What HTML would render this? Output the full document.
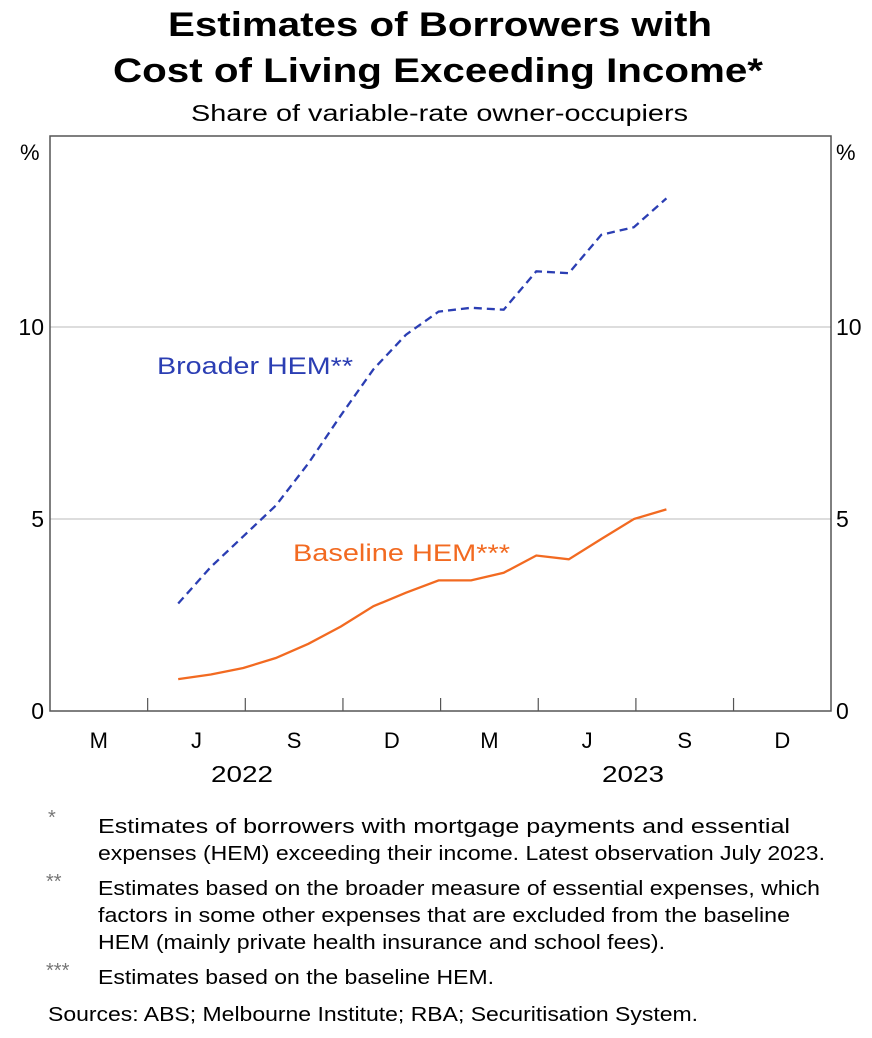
<!DOCTYPE html>
<html><head><meta charset="utf-8"><style>
body{margin:0;background:#fff;font-family:"Liberation Sans",Arial,sans-serif;}
</style></head><body>
<svg id="c" width="872" height="1033" xmlns="http://www.w3.org/2000/svg" font-family="Liberation Sans, Arial, sans-serif">
<text x="168" y="36" font-size="34" font-weight="bold" textLength="544" lengthAdjust="spacingAndGlyphs">Estimates of Borrowers with</text>
<text x="113" y="82" font-size="34" font-weight="bold" textLength="650" lengthAdjust="spacingAndGlyphs">Cost of Living Exceeding Income*</text>
<text x="191" y="121" font-size="23" textLength="497" lengthAdjust="spacingAndGlyphs">Share of variable-rate owner-occupiers</text>
<g id="grid"></g>
<rect x="50" y="136" width="781" height="575" fill="none" stroke="#555" stroke-width="1.5"/>
<text x="20" y="160" font-size="22">%</text>
<text x="836" y="160" font-size="22">%</text>
<g id="ax"></g>
<g id="series"></g>
<text x="157" y="374" font-size="24" fill="#2b3eb3" textLength="196" lengthAdjust="spacingAndGlyphs">Broader HEM**</text>
<text x="293" y="561" font-size="24" fill="#f26a21" textLength="217" lengthAdjust="spacingAndGlyphs">Baseline HEM***</text>
<text x="211" y="782" font-size="23" textLength="62" lengthAdjust="spacingAndGlyphs">2022</text>
<text x="602" y="782" font-size="23" textLength="62" lengthAdjust="spacingAndGlyphs">2023</text>
<g font-size="20" lengthAdjust="spacingAndGlyphs">
<text x="48" y="824" fill="#777">*</text>
<text x="98" y="833" textLength="692" lengthAdjust="spacingAndGlyphs">Estimates of borrowers with mortgage payments and essential</text>
<text x="98" y="860" textLength="727" lengthAdjust="spacingAndGlyphs">expenses (HEM) exceeding their income. Latest observation July 2023.</text>
<text x="46" y="888" fill="#777">**</text>
<text x="98" y="895" textLength="722" lengthAdjust="spacingAndGlyphs">Estimates based on the broader measure of essential expenses, which</text>
<text x="98" y="922" textLength="692" lengthAdjust="spacingAndGlyphs">factors in some other expenses that are excluded from the baseline</text>
<text x="98" y="949" textLength="567" lengthAdjust="spacingAndGlyphs">HEM (mainly private health insurance and school fees).</text>
<text x="46" y="977" fill="#777">***</text>
<text x="98" y="984" textLength="396" lengthAdjust="spacingAndGlyphs">Estimates based on the baseline HEM.</text>
<text x="48" y="1021" textLength="650" lengthAdjust="spacingAndGlyphs">Sources: ABS; Melbourne Institute; RBA; Securitisation System.</text>
</g>
</svg>
<script>
const yTicks=[0,5,10];
const quarterLabels=["M","J","S","D","M","J","S","D"];
const months=[4,5,6,7,8,9,10,11,12,13,14,15,16,17,18,19];
const broader=[2.8,3.75,4.55,5.35,6.45,7.7,8.9,9.8,10.4,10.5,10.45,11.45,11.4,12.4,12.6,13.35];
const baseline=[0.83,0.95,1.12,1.38,1.75,2.2,2.73,3.08,3.4,3.4,3.6,4.05,3.95,4.48,5.0,5.25];
const X0=50,MW=32.55,Y0=711,YU=38.4;
const xS=m=>X0+MW*m-2, yS=v=>Y0-v*YU;
const NS="http://www.w3.org/2000/svg";
function mk(t,a,p){const e=document.createElementNS(NS,t);for(const k in a)e.setAttribute(k,a[k]);p.appendChild(e);return e;}
const grid=document.getElementById('grid'),ax=document.getElementById('ax'),sr=document.getElementById('series');
yTicks.forEach(v=>{
 if(v>0){const g=mk('line',{x1:50,x2:831,y1:yS(v),y2:yS(v),stroke:'#bbb','stroke-width':1},grid);
 
 }
 const l=mk('text',{x:44,y:yS(v)+8,'text-anchor':'end','font-size':23},ax);l.textContent=v;
 
 
 const r=mk('text',{x:836,y:yS(v)+8,'font-size':23},ax);r.textContent=v;
 
 
});
quarterLabels.forEach((q,i)=>{
 const x=X0+MW*3*i;
 if(i>0){const t=mk('line',{x1:x,x2:x,y1:Y0,y2:Y0-13,stroke:'#555','stroke-width':1.2},ax);
 
 }
 const l=mk('text',{x:x+MW*1.5,y:748,'text-anchor':'middle','font-size':22},ax);l.textContent=q;
 
 
});
function line(vals,col,dash,name){
 const d=vals.map((v,i)=>(i?'L':'M')+xS(months[i]).toFixed(1)+','+yS(v).toFixed(1)).join('');
 const p=mk('path',{d:d,fill:'none',stroke:col,'stroke-width':2.3},sr);
 if(dash)p.setAttribute('stroke-dasharray',dash);
 
 
}
line(broader,'#2b3eb3','8 5','broader-hem-line');
line(baseline,'#f26a21',null,'baseline-hem-line');
</script>
</body></html>
